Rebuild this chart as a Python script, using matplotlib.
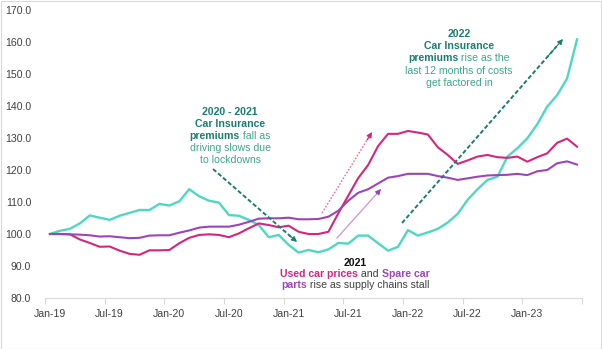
import matplotlib
matplotlib.use("Agg")
import matplotlib.pyplot as plt
from matplotlib.patches import Rectangle

plt.rcParams['font.family'] = ['Liberation Sans', 'DejaVu Sans']

# ---- data ----
months = ["Jan", "Feb", "Mar", "Apr", "May", "Jun", "Jul", "Aug", "Sep", "Oct", "Nov", "Dec"]
categories = [f"{months[m]}-{19 + y}" for y in range(5) for m in range(12)][:54]  # Jan-19 .. Jun-23
tick_labels = ["Jan-19", "Jul-19", "Jan-20", "Jul-20", "Jan-21", "Jul-21", "Jan-22", "Jul-22", "Jan-23"]

car_insurance = [100.0, 101.0, 101.6, 103.3, 105.8, 105.1, 104.4, 105.7, 106.6, 107.5,
                 107.5, 109.4, 108.9, 110.2, 114.0, 111.8, 110.4, 109.8, 105.9, 105.7,
                 104.4, 102.8, 99.0, 99.7, 96.6, 94.2, 95.0, 94.3, 95.2, 97.2,
                 97.0, 99.5, 99.5, 97.1, 94.8, 96.0, 101.2, 99.5, 100.5, 101.6,
                 103.6, 106.3, 110.7, 114.0, 116.9, 117.9, 124.2, 126.8, 129.9, 134.3,
                 139.8, 143.4, 148.6, 160.8]
used_cars = [100.0, 100.0, 99.9, 98.3, 97.2, 96.0, 96.1, 94.8, 93.8, 93.5,
             94.9, 94.9, 95.0, 97.1, 98.8, 99.7, 99.9, 99.7, 99.0, 100.2,
             101.8, 103.3, 102.8, 102.1, 102.6, 100.7, 100.0, 100.0, 100.7, 106.5,
             112.0, 117.5, 121.6, 127.5, 131.3, 131.3, 132.2, 131.7, 131.1, 127.1,
             124.7, 121.9, 123.0, 124.2, 124.7, 124.0, 123.8, 124.2, 122.6, 124.0,
             125.2, 128.5, 129.8, 127.3]
spare_parts = [100.0, 100.0, 99.9, 99.8, 99.6, 99.2, 99.3, 99.0, 98.7, 98.8,
               99.5, 99.6, 99.6, 100.4, 101.1, 102.0, 102.3, 102.3, 102.3, 102.9,
               103.8, 104.8, 104.9, 104.9, 105.1, 104.6, 104.6, 104.7, 105.4, 107.3,
               110.4, 112.9, 114.0, 115.8, 117.6, 118.1, 118.8, 118.8, 118.8, 118.1,
               117.6, 116.9, 117.4, 117.9, 118.3, 118.4, 118.5, 118.8, 118.4, 119.6,
               120.0, 122.1, 122.7, 121.7]

TEAL = "#4fd8c1"
MAGENTA = "#d3267c"
PURPLE = "#9d44b9"
DARK_TEAL = "#1b7d70"
LIGHT_TEAL = "#3da58c"
GRAY = "#404040"

W, H = 602, 349
fig = plt.figure(figsize=(W / 100, H / 100), dpi=100)
ax = fig.add_axes([45 / W, 1 - 298 / H, (582 - 45) / W, (298 - 10) / H])

x = list(range(len(categories)))
ax.plot(x, car_insurance, color=TEAL, lw=1.7, solid_joinstyle='round')
ax.plot(x, used_cars, color=MAGENTA, lw=1.5, solid_joinstyle='round')
ax.plot(x, spare_parts, color=PURPLE, lw=1.5, solid_joinstyle='round')

ax.set_xlim(-0.5, len(categories) - 0.5)
ax.set_ylim(80, 170)
ax.set_yticks(range(80, 171, 10))
ax.set_yticklabels([f"{v:.1f}" for v in range(80, 171, 10)])

label_pos = [categories.index(t) for t in tick_labels]
ax.set_xticks([p - 0.5 for p in range(0, len(categories) + 1, 6)])
ax.set_xticklabels([])
ax.set_xticks(label_pos, minor=True)
ax.set_xticklabels(tick_labels, minor=True)
ax.tick_params(axis='x', which='major', length=4, color="#d9d9d9", width=0.8)
ax.tick_params(axis='x', which='minor', length=0, pad=8, labelsize=7.6, labelcolor=GRAY)
ax.tick_params(axis='y', length=0, pad=10, labelsize=7.6, labelcolor=GRAY)

for s in ['top', 'right', 'left']:
    ax.spines[s].set_visible(False)
ax.spines['bottom'].set_color("#d9d9d9")
ax.spines['bottom'].set_linewidth(0.8)


# ---- arrows (pixel positions converted to data coordinates) ----
def px2data(px, py):
    return ((px - 45) / 9.944 - 0.5, 80 + (298 - py) / 3.2)


def arrow(p0, p1, color, head_color, ls, lw):
    (x0, y0), (x1, y1) = px2data(*p0), px2data(*p1)
    ax.plot([x0, x0 + (x1 - x0) * 0.96], [y0, y0 + (y1 - y0) * 0.96],
            color=color, lw=lw, linestyle=ls, dash_capstyle='butt')
    ax.annotate("", xy=(x1, y1), xytext=(x0 + (x1 - x0) * 0.9, y0 + (y1 - y0) * 0.9),
                arrowprops=dict(arrowstyle='-|>', color=head_color, lw=0.8,
                                mutation_scale=8, shrinkA=0, shrinkB=0))


arrow((213, 169), (297, 242), DARK_TEAL, DARK_TEAL, (0, (2.2, 1.2)), 1.4)
arrow((402, 223), (563, 39), DARK_TEAL, DARK_TEAL, (0, (2.2, 1.2)), 1.4)
arrow((322, 213), (372, 132), "#ea6aa6", MAGENTA, (0, (1.2, 1.2)), 1.0)
arrow((337, 238), (381, 189), "#c8a0dc", PURPLE, '-', 1.0)

# ---- annotation text ----
renderer = fig.canvas.get_renderer()
FS = 7.6


def rich_line(cx_px, cy_px, segments):
    texts = []
    for s, color, weight in segments:
        t = fig.text(0, 1 - cy_px / H, s, color=color, fontweight=weight,
                     fontsize=FS, va='center', ha='left')
        texts.append(t)
    widths = [t.get_window_extent(renderer).width for t in texts]
    total = sum(widths)
    xstart = cx_px - total / 2
    for t, w in zip(texts, widths):
        t.set_x(xstart / W)
        xstart += w


rich_line(230, 112, [("2020 - 2021", DARK_TEAL, 'bold')])
rich_line(230, 124, [("Car Insurance", DARK_TEAL, 'bold')])
rich_line(230, 136, [("premiums", DARK_TEAL, 'bold'), (" fall as", LIGHT_TEAL, 'normal')])
rich_line(230, 148, [("driving slows due", LIGHT_TEAL, 'normal')])
rich_line(230, 160, [("to lockdowns", LIGHT_TEAL, 'normal')])

rich_line(459, 34, [("2022", DARK_TEAL, 'bold')])
rich_line(459, 46, [("Car Insurance", DARK_TEAL, 'bold')])
rich_line(459, 58, [("premiums", DARK_TEAL, 'bold'), (" rise as the", LIGHT_TEAL, 'normal')])
rich_line(459, 71, [("last 12 months of costs", LIGHT_TEAL, 'normal')])
rich_line(459, 83, [("get factored in", LIGHT_TEAL, 'normal')])

rich_line(355, 263, [("2021", "#111111", 'bold')])
rich_line(355, 274, [("Used car prices", MAGENTA, 'bold'), (" and ", GRAY, 'normal'),
                     ("Spare car", PURPLE, 'bold')])
rich_line(355, 285, [("parts", PURPLE, 'bold'), (" rise as supply chains stall", GRAY, 'normal')])

# figure frame
fig.patches.append(Rectangle((0.5 / W, 0.5 / H), 1 - 1.5 / W, 1 - 1.5 / H,
                             transform=fig.transFigure, fill=False,
                             edgecolor="#d9d9d9", lw=0.8))

fig.savefig("out.png", dpi=100)
